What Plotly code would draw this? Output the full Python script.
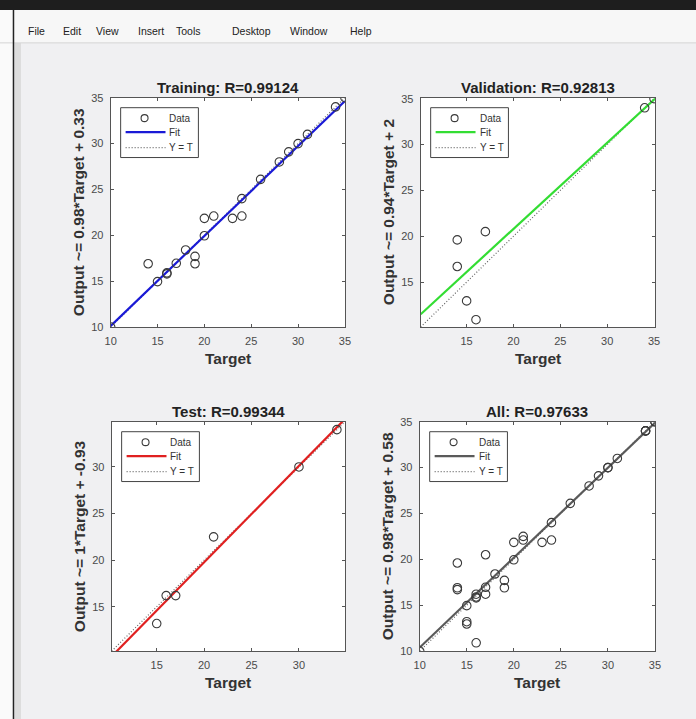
import plotly.graph_objects as go

# ---------------- data ----------------
panel_titles = ["Training: R=0.99124", "Validation: R=0.92813", "Test: R=0.99344", "All: R=0.97633"]
ylabels = ["Output ~= 0.98*Target + 0.33", "Output ~= 0.94*Target + 2",
           "Output ~= 1*Target + -0.93", "Output ~= 0.98*Target + 0.58"]

train_target = [10, 35, 34, 31, 30, 29, 28, 26, 24, 24, 23, 21, 20, 20, 18, 19, 19, 17, 16, 16, 15, 14]
train_output = [10.0, 35.0, 34.0, 31.0, 30.0, 29.1, 28.0, 26.1, 24.0, 22.1, 21.85, 22.1, 21.85, 19.95,
                18.4, 17.7, 16.9, 16.95, 15.9, 15.8, 14.95, 16.9]

val_target = [35, 34, 14, 14, 17, 15, 16]
val_output = [35.0, 34.0, 19.6, 16.7, 20.5, 12.95, 10.9]

test_target = [15, 16, 17, 21, 30, 34]
test_output = [13.2, 16.2, 16.2, 22.5, 30.0, 34.0]

all_target = train_target + val_target + test_target
all_output = train_output + val_output + test_output

fit_slope = [0.98, 0.94, 1.035, 0.98]
fit_intercept = [0.33, 2.0, -0.93, 0.58]
fit_colors = ["#1a1ad6", "#33dd33", "#e02020", "#5a5a5a"]

axis_ranges = [[10, 35], [10.1, 35.1], [10.25, 34.85], [10, 35]]
tick_sets = [[10, 15, 20, 25, 30, 35], [15, 20, 25, 30, 35], [15, 20, 25, 30], [10, 15, 20, 25, 30, 35]]

legend_labels = ["Data", "Fit", "Y = T"]

menu_items = ["File", "Edit", "View", "Insert", "Tools", "Desktop", "Window", "Help"]
menu_x = [36, 71, 107, 150, 188, 251, 309, 361]

# ---------------- layout geometry (screen pixels) ----------------
W, H = 696, 719
OFF = 5.0
SX, SY = W / (W + 2 * OFF), H / (H + 2 * OFF)
boxes = [(110, 345, 97, 327), (421, 656, 97, 327), (111, 345, 422, 652), (420, 656, 422, 652)]
FONT = "Liberation Sans, Arial"
DOT = "1px,2px"


def px(x):
    return ((x - OFF) / SX) / W


def py(y):
    return 1 - ((y - OFF) / SY) / H


fig = go.Figure()
datasets = [(train_target, train_output), (val_target, val_output),
            (test_target, test_output), (all_target, all_output)]
shapes = []

for i in range(4):
    ax = "" if i == 0 else str(i + 1)
    xa, ya = "x" + ax, "y" + ax
    lo, hi = axis_ranges[i]
    t, o = datasets[i]
    # Y = T
    fig.add_trace(go.Scatter(x=[lo, hi], y=[lo, hi], mode="lines", name="Y = T",
                             line=dict(color="#666666", width=1.2, dash=DOT),
                             xaxis=xa, yaxis=ya, hoverinfo="skip"))
    # Fit
    fig.add_trace(go.Scatter(x=[lo, hi], y=[fit_slope[i] * lo + fit_intercept[i], fit_slope[i] * hi + fit_intercept[i]],
                             mode="lines", name="Fit", line=dict(color=fit_colors[i], width=2.2),
                             xaxis=xa, yaxis=ya))
    # Data
    fig.add_trace(go.Scatter(x=t, y=o, mode="markers", name="Data",
                             marker=dict(symbol="circle-open", size=8.5, color="#3a3a3a", line=dict(width=1.1)),
                             xaxis=xa, yaxis=ya))

    x0, x1, y0, y1 = boxes[i]
    common = dict(showgrid=False, zeroline=False, showline=True, mirror="ticks", ticks="inside",
                  ticklen=3, tickcolor="#555555", linecolor="#555555", linewidth=1,
                  tickfont=dict(family=FONT, size=11, color="#4a4a4a"),
                  range=[lo, hi], tickvals=tick_sets[i], fixedrange=True, ticklabelstandoff=4)
    fig.update_layout(**{
        "xaxis" + ax: dict(domain=[px(x0), px(x1)], anchor=ya, **common),
        "yaxis" + ax: dict(domain=[py(y1), py(y0)], anchor=xa, **common),
    })
    cx = (x0 + x1) / 2
    fig.add_annotation(text="<b>" + panel_titles[i] + "</b>", x=px(cx), y=py(y0 - 10), xref="paper", yref="paper",
                       xanchor="center", yanchor="middle", showarrow=False,
                       font=dict(family=FONT, size=15, color="#222222"))
    fig.add_annotation(text="<b>Target</b>", x=px(cx), y=py(y1 + 32), xref="paper", yref="paper",
                       xanchor="center", yanchor="middle", showarrow=False,
                       font=dict(family=FONT, size=15.5, color="#333333"))
    fig.add_annotation(text="<b>" + ylabels[i] + "</b>", x=px(x0 - 32), y=py((y0 + y1) / 2), xref="paper", yref="paper",
                       xanchor="center", yanchor="middle", showarrow=False, textangle=-90,
                       font=dict(family=FONT, size=15.5, color="#333333"))

    # legend box (MATLAB style)
    L, T = x0 + 10, y0 + 10
    shapes.append(dict(type="rect", xref="paper", yref="paper", x0=px(L), x1=px(L + 78), y0=py(T + 50), y1=py(T),
                       fillcolor="white", line=dict(color="#444444", width=1)))
    rows = [T + 10.5, T + 24.5, T + 40]
    shapes.append(dict(type="circle", xref="paper", yref="paper", x0=px(L + 20.5), x1=px(L + 27.5),
                       y0=py(rows[0] + 3.5), y1=py(rows[0] - 3.5), line=dict(color="#3a3a3a", width=1.1)))
    shapes.append(dict(type="line", xref="paper", yref="paper", x0=px(L + 5), x1=px(L + 45),
                       y0=py(rows[1]), y1=py(rows[1]), line=dict(color=fit_colors[i], width=2.2)))
    shapes.append(dict(type="line", xref="paper", yref="paper", x0=px(L + 5), x1=px(L + 45),
                       y0=py(rows[2]), y1=py(rows[2]), line=dict(color="#666666", width=1.2, dash=DOT)))
    for lab, ry in zip(legend_labels, rows):
        fig.add_annotation(text=lab, x=px(L + 47), y=py(ry), xref="paper", yref="paper",
                           xanchor="left", yanchor="middle", showarrow=False,
                           font=dict(family=FONT, size=10, color="#333333"))

# window chrome
shapes += [
    dict(type="rect", xref="paper", yref="paper", x0=-0.05, x1=1.05, y0=py(9), y1=1.05, fillcolor="#1e1e1e", line=dict(width=0), layer="below"),
    dict(type="rect", xref="paper", yref="paper", x0=-0.05, x1=1.05, y0=py(42), y1=py(9), fillcolor="#f7f7f7", line=dict(width=0), layer="below"),
    dict(type="line", xref="paper", yref="paper", x0=-0.05, x1=1.05, y0=py(42), y1=py(42), line=dict(color="#d4d4d4", width=1)),
    dict(type="rect", xref="paper", yref="paper", x0=-0.05, x1=px(12), y0=-0.05, y1=py(9), fillcolor="#fafafa", line=dict(width=0), layer="below"),
    dict(type="line", xref="paper", yref="paper", x0=px(12.5), x1=px(12.5), y0=-0.05, y1=py(9), line=dict(color="#222222", width=1.5)),
    dict(type="rect", xref="paper", yref="paper", x0=px(13.5), x1=px(20), y0=-0.05, y1=py(42), fillcolor="#dcdcdc", line=dict(width=0), layer="below"),
]
for name, mx in zip(menu_items, menu_x):
    fig.add_annotation(text=name, x=px(mx), y=py(30), xref="paper", yref="paper", showarrow=False,
                       xanchor="center", yanchor="middle", font=dict(family=FONT, size=10.5, color="#222222"))

fig.update_layout(width=W, height=H, margin=dict(l=0, r=0, t=0, b=0),
                  paper_bgcolor="#f0f0f2", plot_bgcolor="white", showlegend=False, shapes=shapes)

fig.write_html("out.html", config={"displayModeBar": False},
               post_script="document.body.style.margin='0px';document.body.style.overflow='hidden';"
                           "document.body.style.background='linear-gradient(#1e1e1e 0px, #1e1e1e 6px, #f0f0f2 6px)';")
